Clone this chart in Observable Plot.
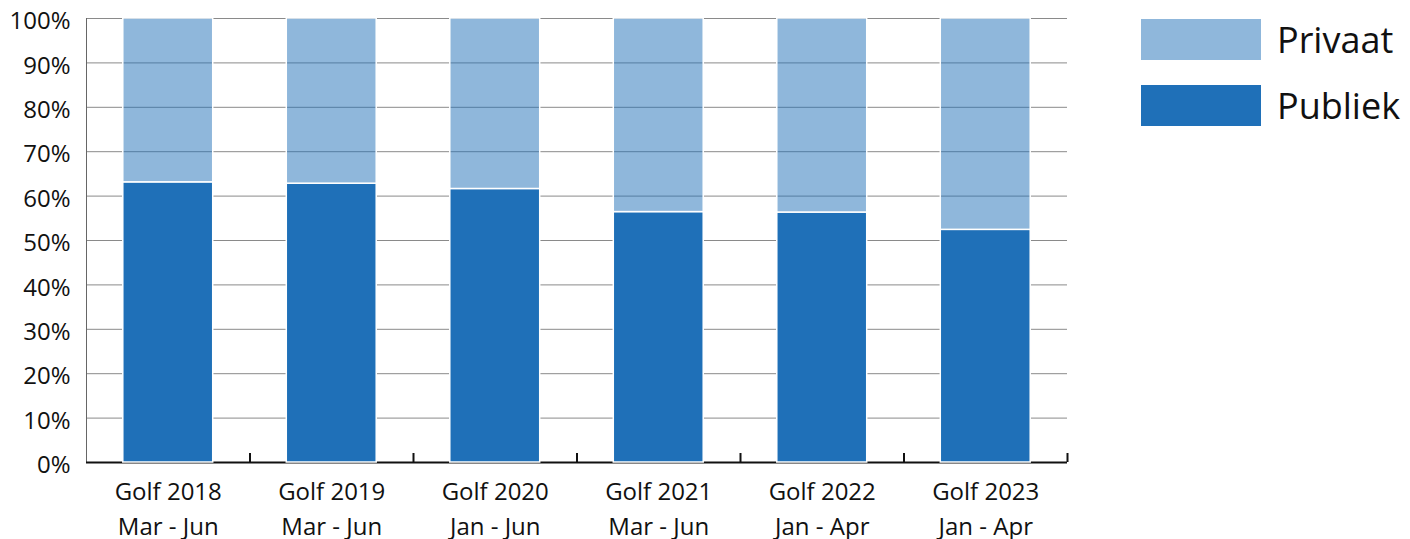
<!DOCTYPE html>
<html>
<head>
<meta charset="utf-8">
<script src="https://cdn.jsdelivr.net/npm/d3@7"></script>
<script src="https://cdn.jsdelivr.net/npm/@observablehq/plot@0.6"></script>
<style>
  html, body { margin: 0; padding: 0; background: #fff; }
  #wrap { position: relative; width: 1410px; height: 539px; font-family: "Open Sans", sans-serif; }
  #legend { position: absolute; left: 1141px; top: 19px; }
  .item { display: flex; align-items: center; height: 41px; margin-bottom: 25px; }
  .sw { width: 120px; height: 41px; margin-right: 16px; }
  .lab { font-size: 36px; color: #111; line-height: 41px; }
</style>
</head>
<body>
<div id="wrap"><div id="chart"></div><div id="legend"></div></div>
<script>
const waves = ["Golf 2018", "Golf 2019", "Golf 2020", "Golf 2021", "Golf 2022", "Golf 2023"];
const periods = ["Mar - Jun", "Mar - Jun", "Jan - Jun", "Mar - Jun", "Jan - Apr", "Jan - Apr"];
const publiek = [63.1, 62.8, 61.6, 56.4, 56.3, 52.4];
const privaat = [36.9, 37.2, 38.4, 43.6, 43.7, 47.6];
const seriesNames = ["Publiek", "Privaat"];
const yTicks = [0, 10, 20, 30, 40, 50, 60, 70, 80, 90, 100];

const dark = "#1f70b8";
const light = "#8fb7db";

const rows = [];
waves.forEach((w, i) => {
  rows.push({wave: w, series: "Publiek", value: publiek[i]});
  rows.push({wave: w, series: "Privaat", value: privaat[i]});
});

const width = 1410, marginLeft = 86, marginRight = 343;
const step = (width - marginLeft - marginRight) / waves.length;

const chart = Plot.plot({
  width, height: 539,
  marginLeft, marginRight, marginTop: 18, marginBottom: 77,
  style: {fontFamily: "Open Sans, sans-serif", background: "transparent"},
  x: {domain: waves, paddingInner: 0.45, paddingOuter: 0.225, round: false, axis: null, label: null},
  y: {domain: [0, 100], axis: null, label: null},
  opacity: {domain: [0, 1], range: [0, 1]},
  marks: [
    Plot.ruleY(yTicks.filter(d => d > 0), {stroke: "#8a8a8a", strokeWidth: 1}),
    Plot.frame({anchor: "left", stroke: "#666", strokeWidth: 1}),
    Plot.ruleY([0], {stroke: "#111", strokeWidth: 2}),
    Plot.axisX({tickSize: -9, text: null, label: null, dx: step / 2, stroke: "#111", strokeWidth: 2}),
    Plot.barY(rows, Plot.stackY({
      x: "wave", y: "value", fill: dark,
      fillOpacity: d => d.series === "Privaat" ? 0.5 : 1,
      stroke: "white", strokeWidth: 1.5
    })),
    Plot.axisY({ticks: yTicks, label: null, tickSize: 0, tickPadding: 16, tickFormat: d => d + "%", fontSize: 24, fill: "#111", dy: 3}),
    Plot.axisX({tickSize: 0, label: null, tickPadding: 13, fontSize: 24, fill: "#111", lineHeight: 1.45,
      tickFormat: d => d + "\n" + periods[waves.indexOf(d)]})
  ]
});
document.getElementById("chart").appendChild(chart);

const legend = document.getElementById("legend");
[["Privaat", light], ["Publiek", dark]].forEach(([name, col]) => {
  const it = document.createElement("div");
  it.className = "item";
  it.innerHTML = `<div class="sw" style="background:${col}"></div><div class="lab">${name}</div>`;
  legend.appendChild(it);
});
</script>
</body>
</html>
